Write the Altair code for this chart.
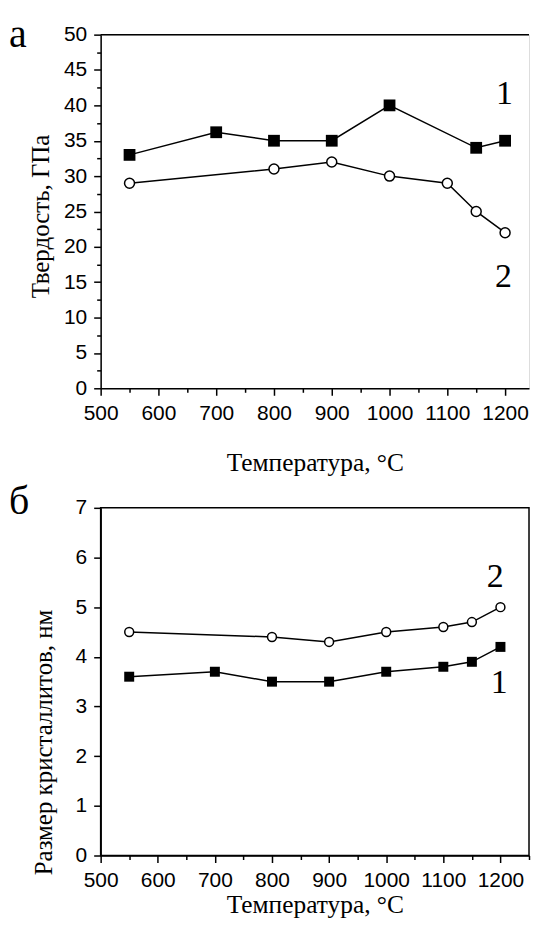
import altair as alt
import pandas as pd

# ---- data ----
temp_h1 = [550, 700, 800, 900, 1000, 1150, 1200]
hard_1 = [33, 36.2, 35, 35, 40, 34, 35]
temp_h2 = [550, 800, 900, 1000, 1100, 1150, 1200]
hard_2 = [29, 31, 32, 30, 29, 25, 22]

temp_s1 = [550, 700, 800, 900, 1000, 1100, 1150, 1200]
size_1 = [3.6, 3.7, 3.5, 3.5, 3.7, 3.8, 3.9, 4.2]
temp_s2 = [550, 800, 900, 1000, 1100, 1150, 1200]
size_2 = [4.5, 4.4, 4.3, 4.5, 4.6, 4.7, 5.0]

x_ticks_top = list(range(500, 1201, 50))
x_ticks_bot = list(range(500, 1251, 50))
hard_ticks = [i * 2.5 for i in range(21)]
size_ticks = [i * 0.5 for i in range(15)]

curve_names = ["1", "2"]
x_title = "Температура, °C"
y_title_top = "Твердость, ГПа"
y_title_bot = "Размер кристаллитов, нм"

SANS = "Liberation Sans"
SERIF = "Liberation Serif"


def axis(title, values, major, title_pad, title_size, title_y=None):
    test = f"abs(datum.value / {major} - round(datum.value / {major})) < 1e-6"
    kw = {}
    if title_y is not None:
        kw["titleY"] = title_y
    return alt.Axis(
        title=title,
        values=values,
        format="d",
        labelExpr=f"{test} ? datum.label : ''",
        tickSize={"condition": {"test": test, "value": 7}, "value": 4},
        tickWidth=1.5,
        tickColor="black",
        domainColor="black",
        domainWidth=1.5,
        labelFont=SANS,
        labelFontSize=21,
        labelColor="black",
        labelPadding=7,
        labelOverlap=False,
        labelFlush=False,
        titleFont=SERIF,
        titleFontSize=title_size,
        titleFontWeight="normal",
        titleColor="black",
        titlePadding=title_pad,
        grid=False,
        **kw,
    )


def panel(t1, v1, t2, v2, xdom, ydom, xticks, yticks, ymajor, ytitle,
          size_sq, size_ci, lbl_T, lbl_v, letter, letter_xy, xtitle_pad, ytitle_pad, ytitle_y):
    d1 = pd.DataFrame({"T": t1, "v": v1})
    d2 = pd.DataFrame({"T": t2, "v": v2})
    dl = pd.DataFrame({"T": lbl_T, "v": lbl_v, "s": curve_names})
    xs = alt.Scale(domain=xdom, nice=False, zero=False)
    ys = alt.Scale(domain=ydom, nice=False, zero=False)
    X = alt.X("T:Q", scale=xs, axis=axis(x_title, xticks, 100, xtitle_pad, 25.5))
    Y = alt.Y("v:Q", scale=ys, axis=axis(ytitle, yticks, ymajor, ytitle_pad, 25, ytitle_y))

    line1 = alt.Chart(d1).mark_line(color="black", strokeWidth=1.5).encode(x=X, y=Y)
    line2 = alt.Chart(d2).mark_line(color="black", strokeWidth=1.5).encode(x=X, y=Y)
    pts1 = alt.Chart(d1).mark_point(shape="square", filled=True, color="black",
                                    opacity=1, size=size_sq).encode(x=X, y=Y)
    pts2 = alt.Chart(d2).mark_point(shape="circle", filled=True, fill="white",
                                    stroke="black", strokeWidth=1.5, opacity=1,
                                    size=size_ci).encode(x=X, y=Y)
    txt = alt.Chart(dl).mark_text(font=SERIF, fontSize=34, color="black").encode(
        x=X, y=Y, text="s:N")
    one = pd.DataFrame({"a": [0]})
    let = alt.Chart(one).mark_text(font=SERIF, fontSize=40, color="black",
                                   align="left", baseline="top").encode(
        x=alt.value(letter_xy[0]), y=alt.value(letter_xy[1]), text=alt.value(letter))
    return [line1, line2, pts1, pts2, txt, let]


top_layers = panel(temp_h1, hard_1, temp_h2, hard_2, [500, 1241.4], [0, 50], x_ticks_top,
                   hard_ticks, 5, y_title_top, 140, 100,
                   [1199, 1197], [41.6, 15.8], "а", (-92, -20), 28, 10, 182)
bot_layers = panel(temp_s1, size_1, temp_s2, size_2, [500, 1250], [0, 7], x_ticks_bot,
                   size_ticks, 1, y_title_bot, 100, 80,
                   [1198, 1191], [3.48, 5.6], "б", (-92, -26), 2, 19, 235)

# top panel: only a top border line; bottom panel: full frame
top_line = alt.Chart(pd.DataFrame({"a": [0]})).mark_rule(color="black", strokeWidth=1.5).encode(
    x=alt.value(0), x2=alt.value(430), y=alt.value(0))
top = alt.layer(*top_layers, top_line).properties(width=430, height=355)
bot = alt.layer(*bot_layers).properties(
    width=430, height=349, view=alt.ViewBackground(stroke="black", strokeWidth=1.5))

chart = alt.vconcat(top, bot, spacing=120, bounds="flush").properties(
    padding={"left": 0, "top": 4, "right": 0, "bottom": 0},
).configure_view(stroke=None).configure_axis(
    titleFont=SERIF, labelFont=SANS, titleFontWeight="normal"
).configure(background="white")

chart.save("out.html", embed_options={"renderer": "svg", "actions": False})
